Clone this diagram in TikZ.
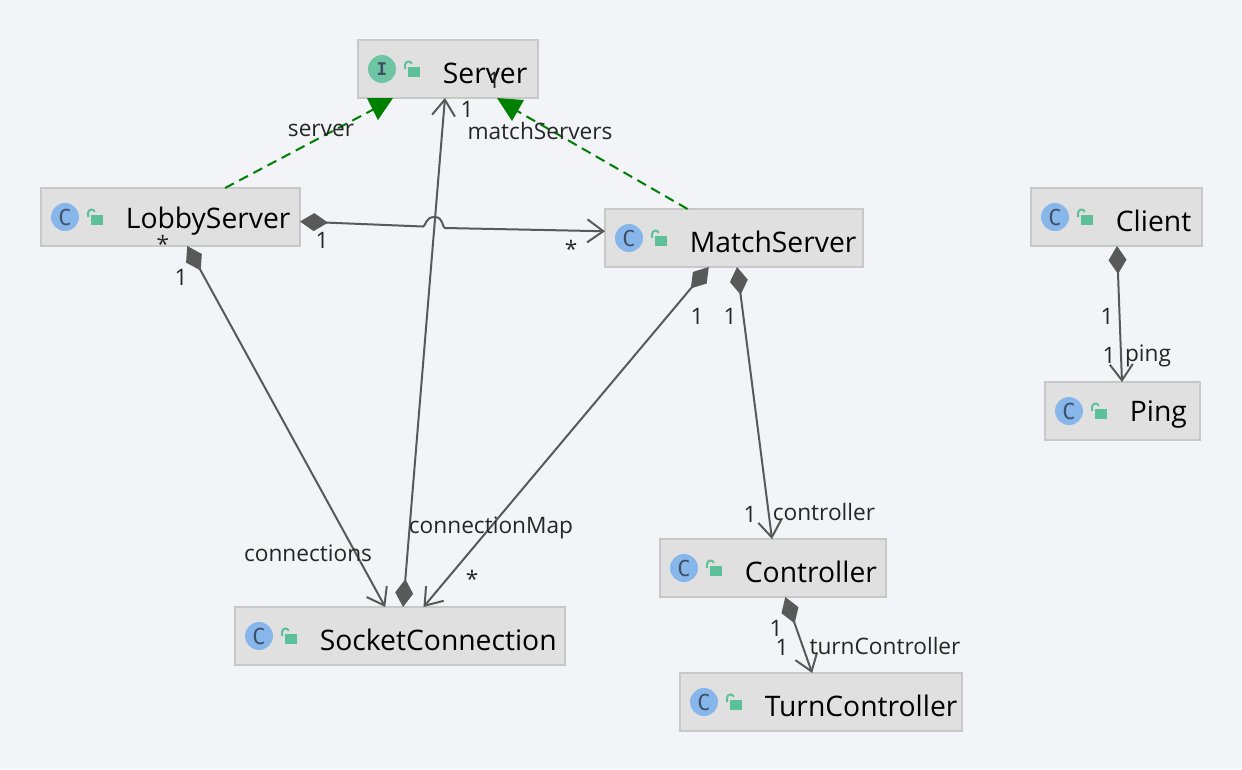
\documentclass[tikz,border=0pt]{standalone}
\usepackage{fontspec}
\setmainfont{Open Sans}
\newfontfamily\iconfont{DejaVu Sans Mono}
\usetikzlibrary{arrows.meta}
\definecolor{canvas}{HTML}{F2F4F8}
\definecolor{boxfill}{HTML}{E0E0E0}
\definecolor{boxline}{HTML}{C8C8C8}
\definecolor{linegray}{HTML}{595959}
\definecolor{implgreen}{HTML}{008000}
\definecolor{lockgreen}{HTML}{5CC19A}
\definecolor{classblue}{HTML}{87B7EA}
\definecolor{ifacegreen}{HTML}{6FC5A3}
\definecolor{glyph}{HTML}{3F4F68}
\definecolor{lbltext}{HTML}{262626}
\newcommand{\ifaceglyph}{{\fontsize{10}{12}\selectfont\bfseries I}}
\tikzset{
	classbox/.style={draw=boxline, fill=boxfill, line width=0.04cm, inner sep=0pt, outer sep=0pt, minimum height=1.16cm},
	nametext/.style={anchor=west, inner sep=0pt, font=\fontsize{16.1}{18}\selectfont, text=black},
	icon/.style={circle, inner sep=0pt, minimum size=0.56cm, text=glyph, font=\iconfont\fontsize{12.5}{13}\selectfont},
	lbl/.style={inner sep=0pt, text=lbltext, font=\fontsize{12.9}{15}\selectfont},
	impl/.style={draw=implgreen, dashed, dash pattern=on 0.2cm off 0.12cm, line width=0.04cm},
	implhead/.style={fill=implgreen},
	comp/.style={draw=linegray, line width=0.04cm, {Diamond[length=0.56cm,width=0.36cm,sep=0pt]}-{Straight Barb[length=0.32cm,width=0.46cm,sep=0pt]}}
}
\begin{document}
\begin{tikzpicture}[x=0.02cm, y=-0.02cm]
	%%% Canvas
	\fill[canvas] (0,0) rectangle (1242,769);
	\useasboundingbox (0,0) rectangle (1242,769);
	%%% Classes
	\foreach \nm/\lx/\cy/\bw/\txt/\ltr/\ic in {
		server/358/69/180/Server/\ifaceglyph/ifacegreen,
		lobby/41/217/259/LobbyServer/C/classblue,
		match/605/238/258/MatchServer/C/classblue,
		client/1031/217/171/Client/C/classblue,
		ping/1045/411/155/Ping/C/classblue,
		controller/660/568/226/Controller/C/classblue,
		turn/680/702/282/TurnController/C/classblue,
		socket/235/636/330/SocketConnection/C/classblue}
	{
		\begin{scope}[shift={(\lx,\cy)}]
			\node[classbox, minimum width=\bw*0.02cm] (\nm) at ({\bw/2},0) {};
			\node[icon, fill=\ic] (\nm-icon) at (24,0) {\ltr};
			\fill[lockgreen] (50,-2) rectangle (62,8);
			\draw[lockgreen, line width=0.04cm] (47,0) -- (47,-4) arc[start angle=180, end angle=340, radius=3.5];
			\node[nametext] (\nm-name) at (84.5,4) {\txt};
		\end{scope}
	}
	%%% Realizations
	\coordinate (headL) at (378,120);
	\coordinate (headR) at (512,121);
	\coordinate (endL) at (378,107);
	\coordinate (endR) at (512,108);
	\draw[impl] (lobby.28) -- (endL);
	\draw[impl] (match.148.9) -- (endR);
	\fill[implhead] (headL) -- ++(-11,-22) -- ++(26,0) -- cycle;
	\fill[implhead] (headR) -- ++(-15,-23) -- ++(27,2) -- cycle;
	%%% Compositions
	\draw[comp] (lobby.-60.4) -- (socket.117.4);
	\draw[comp] (socket.84.1) -- (server.-96);
	\draw[comp] (match.-131.9) -- (socket.51.6);
	\draw[comp] (match.-84.1) -- (controller.92);
	\draw[comp] (controller.-67.5) -- (turn.107.2);
	\draw[comp] (client.-89) -- (ping.91);
	%%% Composition with the jump over the Server line
	\coordinate (jumpA) at (423,226.5);
	\coordinate (jumpB) at (445,228);
	\draw[comp] (lobby.-2.2) -- (jumpA) .. controls (426,226.5) and (425,217) .. (434.5,217) .. controls (444,217) and (442,228) .. (jumpB) -- (match.177.8);
	%%% Labels
	\foreach \id/\px/\py/\txt in {
		lserver/321/130.5/server, lmatchservers/540/131/matchServers,
		lconnections/308/553/connections, lconnectionmap/491/528/connectionMap,
		lcontroller/824/512/controller, lturn/885/646/turnController, lping/1148/356/ping,
		a/467/109/1, b/494/80/1, c/181/277/1, d/322/240/1, e/697/316/1, f/730/316/1,
		g/750/514/1, h/776/628/1, i/782/647/1, j/1107/316/1, k/1109/355/1,
		m/163/244/*, n/571/249/*, o/472/579/*}
	{
		\node[lbl] (\id) at (\px,\py) {\txt};
	}
\end{tikzpicture}
\end{document}
